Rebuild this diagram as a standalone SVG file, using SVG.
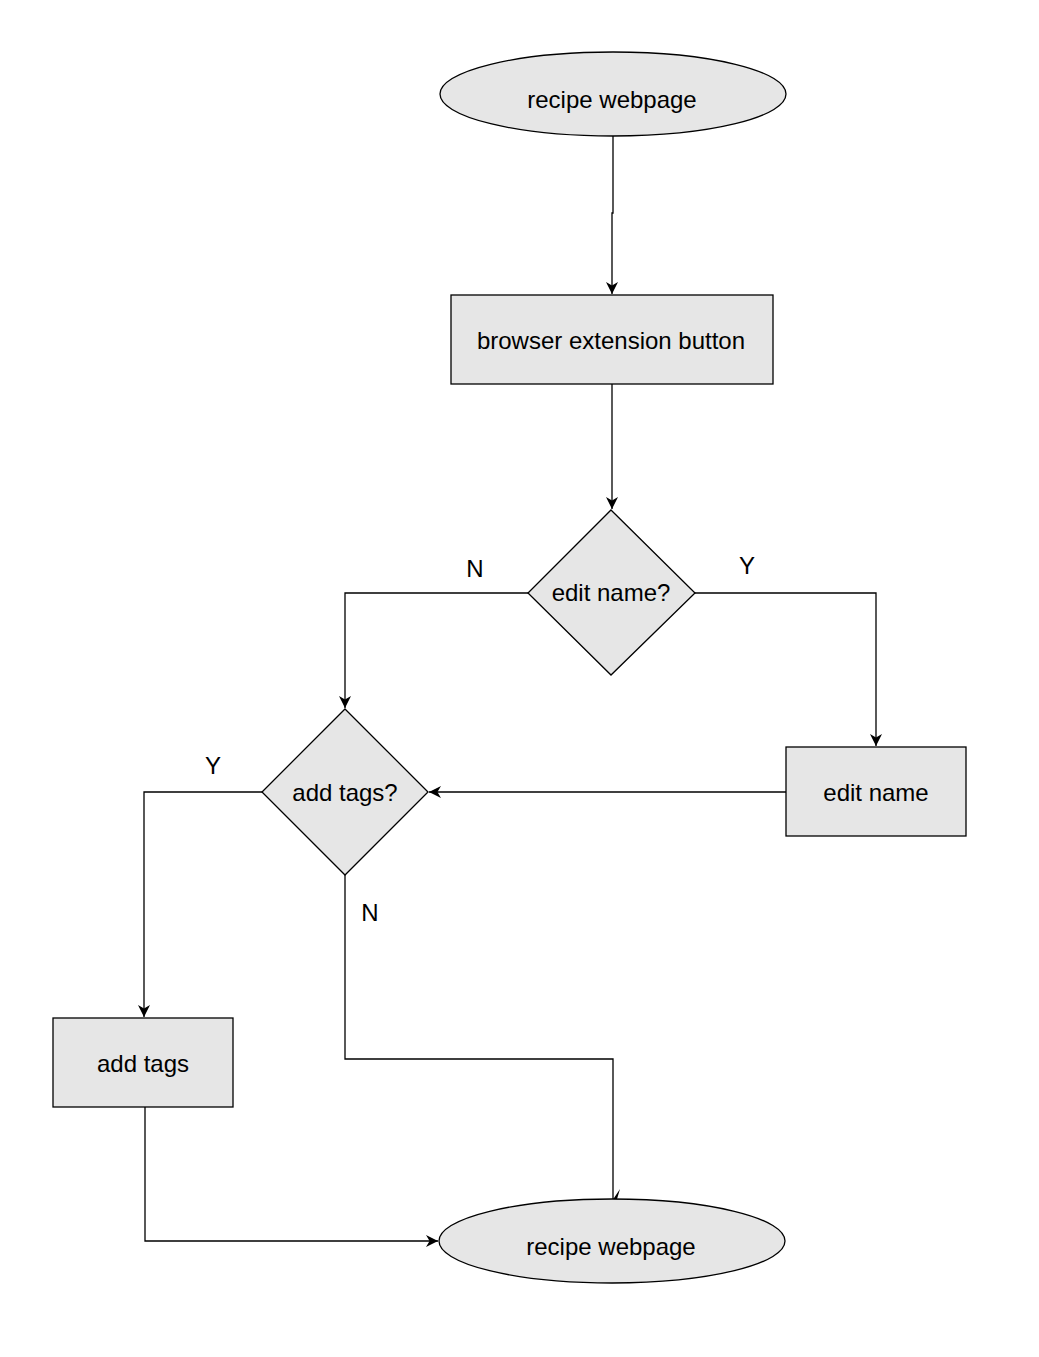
<svg xmlns="http://www.w3.org/2000/svg" width="1039" height="1357" viewBox="0 0 1039 1357">
<defs>
<marker id="arr" viewBox="0 0 10 10" refX="10" refY="5" markerWidth="13" markerHeight="12" markerUnits="userSpaceOnUse" orient="auto">
<path d="M0,0 L10,5 L0,10 L3,5 Z" fill="#000"/>
</marker>
</defs>
<style>
.shape{fill:#e6e6e6;stroke:#000;stroke-width:1.3}
.line{fill:none;stroke:#000;stroke-width:1.3}
text{font-family:"Liberation Sans",Arial,sans-serif;font-size:24px;fill:#000;text-anchor:middle;dominant-baseline:central}
</style>
<rect width="1039" height="1357" fill="#fff"/>
<g id="connectors">
<path class="line" d="M613,136 V213 H612 V294" marker-end="url(#arr)"/>
<path class="line" d="M612,384 V509" marker-end="url(#arr)"/>
<path class="line" d="M528,593 H345 V708" marker-end="url(#arr)"/>
<path class="line" d="M695,593 H876 V746" marker-end="url(#arr)"/>
<path class="line" d="M786,792 H429" marker-end="url(#arr)"/>
<path class="line" d="M262,792 H144 V1017" marker-end="url(#arr)"/>
<path class="line" d="M145,1107 V1241 H438" marker-end="url(#arr)"/>
<path class="line" d="M345,875 V1059 H613 V1199"/>
<path d="M612,1201 L620,1189 L617,1199 L627,1203 Z" fill="#000"/>
</g>
<g id="start">
<ellipse class="shape" cx="613" cy="94" rx="173" ry="42"/>
<text x="612" y="99">recipe webpage</text>
</g>
<g id="extension">
<rect class="shape" x="451" y="295" width="322" height="89"/>
<text x="611" y="340">browser extension button</text>
</g>
<g id="editNameQ">
<polygon class="shape" points="611,510 695,593 611,675 528,593"/>
<text x="611" y="592">edit name?</text>
</g>
<text x="475" y="568">N</text>
<text x="747" y="565">Y</text>
<g id="editName">
<rect class="shape" x="786" y="747" width="180" height="89"/>
<text x="876" y="792">edit name</text>
</g>
<g id="addTagsQ">
<polygon class="shape" points="345,709 428,792 345,875 262,792"/>
<text x="345" y="792">add tags?</text>
</g>
<text x="213" y="765">Y</text>
<text x="370" y="912">N</text>
<g id="addTags">
<rect class="shape" x="53" y="1018" width="180" height="89"/>
<text x="143" y="1063">add tags</text>
</g>
<g id="end">
<ellipse class="shape" cx="612" cy="1241" rx="173" ry="42"/>
<text x="611" y="1246">recipe webpage</text>
</g>
</svg>
